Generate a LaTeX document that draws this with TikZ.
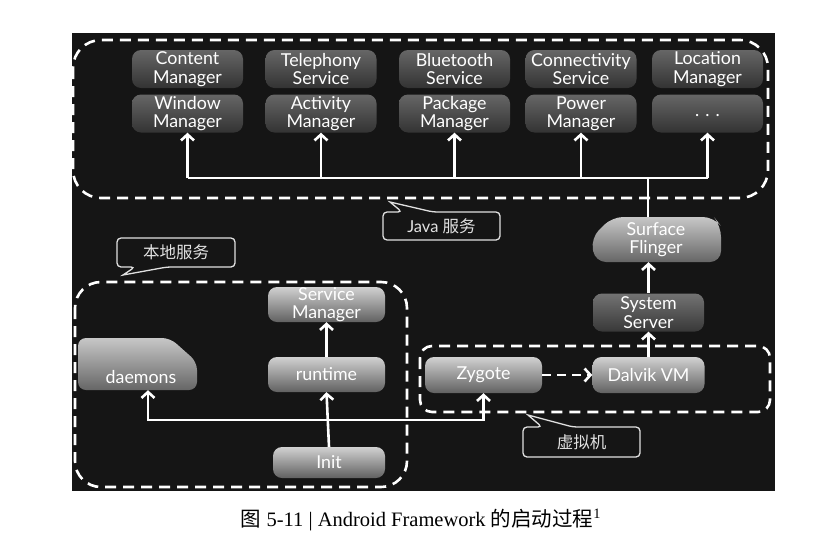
\documentclass[tikz,border=0pt]{standalone}
\usepackage{fontspec}
\setmainfont{Lato}
\newfontfamily\cjk{Noto Sans CJK SC}
\newfontfamily\capfont{Liberation Serif}
\usetikzlibrary{arrows.meta}

\definecolor{bgdark}{HTML}{151515}
\definecolor{calltext}{HTML}{E2E2E2}

\tikzset{
  darkbox/.style={rounded corners=9pt, minimum width=111pt, minimum height=38pt,
    inner sep=0pt, align=center, text=white, top color=black!60, bottom color=black!80,
    font=\fontsize{17.8}{18.5}\selectfont},
  lightbox/.style={darkbox, top color=black!18, bottom color=black!62},
  wline/.style={draw=white, line width=2.6pt},
  arr/.style={wline, -{Straight Barb[length=6pt,width=13pt]}},
  dashbox/.style={draw=white, line width=2.6pt, dash pattern=on 11pt off 7pt},
  callout/.style={draw=white!88!black, line width=1.3pt, rounded corners=4pt},
  calltxt/.style={text=calltext, font=\fontsize{16.5}{18}\selectfont}
}

\begin{document}
\begin{tikzpicture}[x=1pt,y=-1pt]
\useasboundingbox (0,0) rectangle (830,536);
\fill[bgdark] (72,33) rectangle (775,491);

% Java services
\draw[dashbox, rounded corners=28pt] (73,40) rectangle (768,198);

\node[darkbox] (cm) at (187.5,69) {Content\\Manager};
\node[darkbox] (tel) at (321,69) {Telephony\\Service};
\node[darkbox] (bt) at (454.5,69) {Bluetooth\\Service};
\node[darkbox] (conn) at (581,69) {Connectivity\\Service};
\node[darkbox] (loc) at (707.5,69) {Location\\Manager};

\node[darkbox] (wm) at (187.5,113.5) {Window\\Manager};
\node[darkbox] (am) at (321,113.5) {Activity\\Manager};
\node[darkbox] (pm) at (454.5,113.5) {Package\\Manager};
\node[darkbox] (pwm) at (581,113.5) {Power\\Manager};
\node[darkbox] (more) at (707.5,113.5) {\raisebox{-7pt}{. . .}};

\coordinate (bus) at (648,178);
\draw[wline] (wm.south |- bus) -- (more.south |- bus);
\draw[arr] (wm.south |- bus) -- (wm.south);
\draw[arr] (am.south |- bus) -- (am.south);
\draw[arr] (pm.south |- bus) -- (pm.south);
\draw[arr] (pwm.south |- bus) -- (pwm.south);
\draw[arr] (more.south |- bus) -- (more.south);

\draw[callout] (390,202) -- (433,212) -- (500,212) -- (500,240) -- (383,240) -- (383,212) -- (402,212) [sharp corners] -- cycle;
\node[calltxt] (javalbl) at (441.5,226.5) {Java {\cjk 服务}};

% system server side
\shade[top color=black!22, bottom color=black!60, rounded corners=11pt]
  (612,217) -- (714,217) -- (721,226) -- (721,262) -- (595,262) -- (591,238) -- cycle;
\node[align=center, text=white, minimum width=130pt, minimum height=45pt,
  font=\fontsize{17.8}{18.5}\selectfont] (sf) at (656,239.5) {Surface\\Flinger};
\draw[wline] (648,0 |- sf.north) -- (648,0 |- bus);

\node[darkbox, top color=black!55, bottom color=black!78] (sys) at (648.5,312.5) {System\\Server};
\draw[arr] (sys.north) -- (sys.north |- sf.south);

% virtual machine
\draw[dashbox, rounded corners=12pt] (420,346) rectangle (770,412);
\node[lightbox, minimum width=117pt, minimum height=36pt] (zyg) at (483.5,375) {Zygote};
\node[lightbox, minimum width=112pt, minimum height=36pt] (dvm) at (648.5,375) {Dalvik VM};
\draw[arr, dash pattern=on 9pt off 6pt] (zyg.east) -- (dvm.west);
\draw[arr] (dvm.north) -- (sys.south);

\draw[callout] (528,415) -- (573,427) -- (640,427) -- (640,457) -- (523,457) -- (523,427) -- (542,427) [sharp corners] -- cycle;
\node[calltxt] (vmlbl) at (581.5,442) {\cjk 虚拟机};

% native services
\draw[dashbox, rounded corners=26pt] (75,282) rectangle (407,487);

\draw[callout] (123,275) -- (135,267) -- (117,267) -- (117,238) -- (235,238) -- (235,267) -- (167,267) [sharp corners] -- cycle;
\node[calltxt] (natlbl) at (176,252.5) {\cjk 本地服务};

\node[lightbox, minimum width=117pt, minimum height=35pt] (smgr) at (326.5,304.5) {Service\\Manager};
\node[lightbox, minimum width=117pt, minimum height=35pt] (rt) at (326.5,374.5) {runtime};
\node[lightbox, minimum width=112pt, minimum height=31pt] (init) at (329,462.5) {Init};

\shade[top color=black!22, bottom color=black!60, rounded corners=8pt]
  (78,338) -- (170,338) -- (197,362) -- (197,390) -- (78,390) -- cycle;
\node[minimum width=119pt, minimum height=52pt, inner sep=0pt] (dm) at (137.5,364) {};
\node[text=white, font=\fontsize{17.8}{18.5}\selectfont] (dmtxt) at (141,377) {daemons};

\draw[arr] (rt.north) -- (smgr.south);
\draw[arr] (init.north) -- (rt.south);
\draw[arr] (init.north |- 0,420) -| ([xshift=10.5pt]dm.south);
\draw[arr] (init.north |- 0,420) -| (zyg.south);

% caption
\node[font=\fontsize{20.5}{22}\capfont] (cap) at (421,520)
  {{\cjk 图} 5-11 | Android Framework {\cjk 的启动过程}\textsuperscript{1}};
\end{tikzpicture}
\end{document}
